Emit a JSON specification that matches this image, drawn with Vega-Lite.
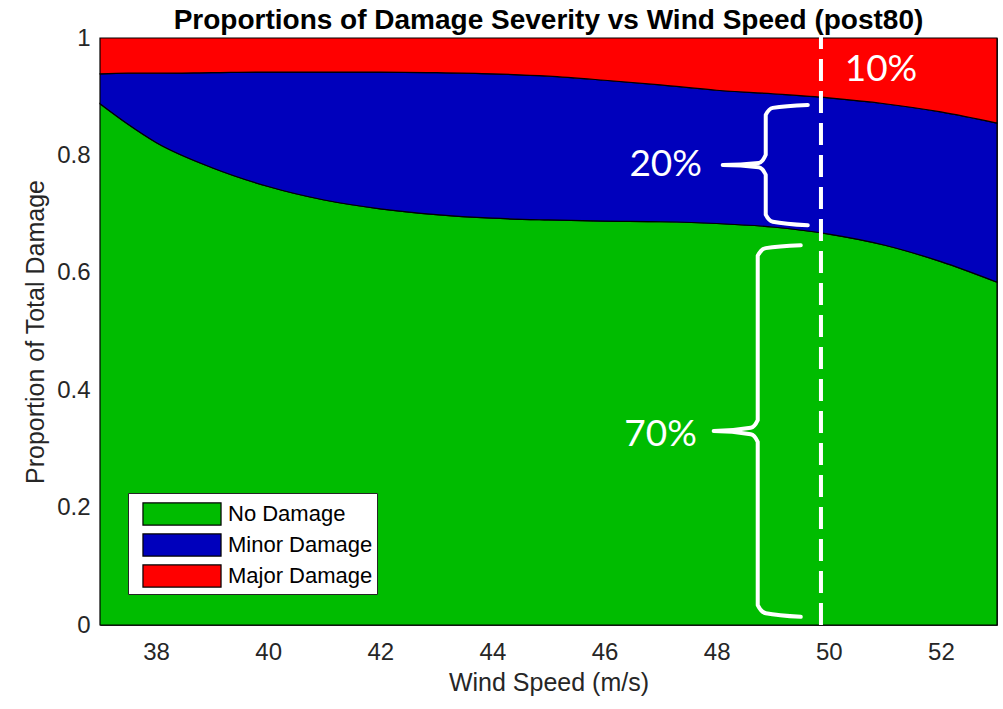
{
  "$schema": "https://vega.github.io/schema/vega-lite/v6.json",
  "width": 897,
  "height": 587,
  "autosize": {"type": "none"},
  "padding": {"left": 100, "top": 38, "right": 6, "bottom": 84},
  "background": "white",
  "config": {
    "view": {"stroke": "#262626", "strokeWidth": 1},
    "font": "Liberation Sans"
  },
  "title": {
    "text": "Proportions of Damage Severity vs Wind Speed (post80)",
    "fontSize": 28,
    "fontWeight": "bold",
    "font": "Liberation Sans",
    "color": "black",
    "anchor": "middle",
    "frame": "group",
    "offset": -9
  },
  "datasets": {
    "damage": [
      {"speed": 37, "category": "No Damage", "rank": 1, "p": 0.888},
      {"speed": 37.5, "category": "No Damage", "rank": 1, "p": 0.853},
      {"speed": 38, "category": "No Damage", "rank": 1, "p": 0.822},
      {"speed": 39, "category": "No Damage", "rank": 1, "p": 0.779},
      {"speed": 40, "category": "No Damage", "rank": 1, "p": 0.747},
      {"speed": 41, "category": "No Damage", "rank": 1, "p": 0.724},
      {"speed": 42, "category": "No Damage", "rank": 1, "p": 0.709},
      {"speed": 43, "category": "No Damage", "rank": 1, "p": 0.699},
      {"speed": 44, "category": "No Damage", "rank": 1, "p": 0.693},
      {"speed": 45, "category": "No Damage", "rank": 1, "p": 0.690},
      {"speed": 46, "category": "No Damage", "rank": 1, "p": 0.688},
      {"speed": 47, "category": "No Damage", "rank": 1, "p": 0.687},
      {"speed": 48, "category": "No Damage", "rank": 1, "p": 0.684},
      {"speed": 49, "category": "No Damage", "rank": 1, "p": 0.678},
      {"speed": 50, "category": "No Damage", "rank": 1, "p": 0.666},
      {"speed": 51, "category": "No Damage", "rank": 1, "p": 0.647},
      {"speed": 52, "category": "No Damage", "rank": 1, "p": 0.619},
      {"speed": 53, "category": "No Damage", "rank": 1, "p": 0.584},
      {"speed": 37, "category": "Minor Damage", "rank": 2, "p": 0.051},
      {"speed": 37.5, "category": "Minor Damage", "rank": 2, "p": 0.087},
      {"speed": 38, "category": "Minor Damage", "rank": 2, "p": 0.118},
      {"speed": 39, "category": "Minor Damage", "rank": 2, "p": 0.162},
      {"speed": 40, "category": "Minor Damage", "rank": 2, "p": 0.195},
      {"speed": 41, "category": "Minor Damage", "rank": 2, "p": 0.218},
      {"speed": 42, "category": "Minor Damage", "rank": 2, "p": 0.233},
      {"speed": 43, "category": "Minor Damage", "rank": 2, "p": 0.242},
      {"speed": 44, "category": "Minor Damage", "rank": 2, "p": 0.246},
      {"speed": 45, "category": "Minor Damage", "rank": 2, "p": 0.245},
      {"speed": 46, "category": "Minor Damage", "rank": 2, "p": 0.240},
      {"speed": 47, "category": "Minor Damage", "rank": 2, "p": 0.233},
      {"speed": 48, "category": "Minor Damage", "rank": 2, "p": 0.227},
      {"speed": 49, "category": "Minor Damage", "rank": 2, "p": 0.227},
      {"speed": 50, "category": "Minor Damage", "rank": 2, "p": 0.232},
      {"speed": 51, "category": "Minor Damage", "rank": 2, "p": 0.241},
      {"speed": 52, "category": "Minor Damage", "rank": 2, "p": 0.255},
      {"speed": 53, "category": "Minor Damage", "rank": 2, "p": 0.271},
      {"speed": 37, "category": "Major Damage", "rank": 3, "p": 0.061},
      {"speed": 37.5, "category": "Major Damage", "rank": 3, "p": 0.060},
      {"speed": 38, "category": "Major Damage", "rank": 3, "p": 0.060},
      {"speed": 39, "category": "Major Damage", "rank": 3, "p": 0.059},
      {"speed": 40, "category": "Major Damage", "rank": 3, "p": 0.058},
      {"speed": 41, "category": "Major Damage", "rank": 3, "p": 0.058},
      {"speed": 42, "category": "Major Damage", "rank": 3, "p": 0.058},
      {"speed": 43, "category": "Major Damage", "rank": 3, "p": 0.059},
      {"speed": 44, "category": "Major Damage", "rank": 3, "p": 0.061},
      {"speed": 45, "category": "Major Damage", "rank": 3, "p": 0.065},
      {"speed": 46, "category": "Major Damage", "rank": 3, "p": 0.072},
      {"speed": 47, "category": "Major Damage", "rank": 3, "p": 0.080},
      {"speed": 48, "category": "Major Damage", "rank": 3, "p": 0.089},
      {"speed": 49, "category": "Major Damage", "rank": 3, "p": 0.095},
      {"speed": 50, "category": "Major Damage", "rank": 3, "p": 0.102},
      {"speed": 51, "category": "Major Damage", "rank": 3, "p": 0.112},
      {"speed": 52, "category": "Major Damage", "rank": 3, "p": 0.126},
      {"speed": 53, "category": "Major Damage", "rank": 3, "p": 0.145}
    ],
    "vline": [
      {"speed": 49.86, "p": 0, "p2": 1.014}
    ],
    "braces": [
      {"brace": "b20", "i": 1, "speed": 49.625, "p": 0.886},
      {"brace": "b20", "i": 2, "speed": 49.0, "p": 0.881},
      {"brace": "b20", "i": 3, "speed": 48.875, "p": 0.869},
      {"brace": "b20", "i": 4, "speed": 48.875, "p": 0.801},
      {"brace": "b20", "i": 5, "speed": 48.75, "p": 0.787},
      {"brace": "b20", "i": 6, "speed": 48.107, "p": 0.7836},
      {"brace": "b20", "i": 7, "speed": 48.75, "p": 0.780},
      {"brace": "b20", "i": 8, "speed": 48.875, "p": 0.767},
      {"brace": "b20", "i": 9, "speed": 48.875, "p": 0.699},
      {"brace": "b20", "i": 10, "speed": 49.0, "p": 0.687},
      {"brace": "b20", "i": 11, "speed": 49.625, "p": 0.681},
      {"brace": "b70", "i": 1, "speed": 49.5, "p": 0.647},
      {"brace": "b70", "i": 2, "speed": 48.875, "p": 0.642},
      {"brace": "b70", "i": 3, "speed": 48.732, "p": 0.629},
      {"brace": "b70", "i": 4, "speed": 48.732, "p": 0.349},
      {"brace": "b70", "i": 5, "speed": 48.607, "p": 0.336},
      {"brace": "b70", "i": 6, "speed": 47.946, "p": 0.3305},
      {"brace": "b70", "i": 7, "speed": 48.607, "p": 0.325},
      {"brace": "b70", "i": 8, "speed": 48.732, "p": 0.312},
      {"brace": "b70", "i": 9, "speed": 48.732, "p": 0.034},
      {"brace": "b70", "i": 10, "speed": 48.875, "p": 0.020},
      {"brace": "b70", "i": 11, "speed": 49.5, "p": 0.014}
    ],
    "labels": [
      {"label": "10%", "speed": 50.93, "p": 0.9455},
      {"label": "20%", "speed": 47.09, "p": 0.7836},
      {"label": "70%", "speed": 47.0, "p": 0.3237}
    ]
  },
  "layer": [
    {
      "data": {"name": "damage"},
      "mark": {"type": "area", "interpolate": "monotone", "stroke": "black", "strokeWidth": 1.2, "opacity": 1},
      "encoding": {
        "x": {
          "field": "speed",
          "type": "quantitative",
          "scale": {"domain": [37, 53], "nice": false, "zero": false},
          "axis": {
            "title": "Wind Speed (m/s)",
            "values": [38, 40, 42, 44, 46, 48, 50, 52],
            "format": "d",
            "ticks": false,
            "grid": false,
            "domain": false,
            "labelFont": "Liberation Sans",
            "labelFontSize": 24,
            "labelColor": "#262626",
            "labelPadding": 15,
            "titleFont": "Liberation Sans",
            "titleFontSize": 25,
            "titleFontWeight": "normal",
            "titleColor": "#262626",
            "titlePadding": 6
          }
        },
        "y": {
          "field": "p",
          "type": "quantitative",
          "stack": "zero",
          "scale": {"domain": [0, 1], "nice": false},
          "axis": {
            "title": "Proportion of Total Damage",
            "values": [0, 0.2, 0.4, 0.6, 0.8, 1],
            "format": "~g",
            "ticks": false,
            "grid": false,
            "domain": false,
            "labelFont": "Liberation Sans",
            "labelFontSize": 24,
            "labelColor": "#262626",
            "labelPadding": 10,
            "titleFont": "Liberation Sans",
            "titleFontSize": 25,
            "titleFontWeight": "normal",
            "titleColor": "#262626",
            "titlePadding": 8
          }
        },
        "color": {
          "field": "category",
          "type": "nominal",
          "sort": ["No Damage", "Minor Damage", "Major Damage"],
          "scale": {
            "domain": ["No Damage", "Minor Damage", "Major Damage"],
            "range": ["#00BC00", "#0000BC", "#FF0000"]
          },
          "legend": {
            "title": null,
            "orient": "none",
            "legendX": 28,
            "legendY": 455,
            "fillColor": "white",
            "strokeColor": "#262626",
            "padding": 4,
            "symbolType": "M-2.44,-0.69H2.44V0.69H-2.44Z",
            "symbolSize": 1024,
            "symbolStrokeColor": "black",
            "symbolStrokeWidth": 1.2,
            "symbolOpacity": 1,
            "symbolOffset": 33,
            "labelOffset": 29,
            "labelFont": "Liberation Sans",
            "labelFontSize": 22,
            "labelColor": "black",
            "labelLimit": 400,
            "rowPadding": 0
          }
        },
        "order": {"field": "rank", "type": "quantitative"}
      }
    },
    {
      "data": {"name": "vline"},
      "mark": {"type": "rule", "color": "white", "strokeWidth": 4, "strokeDash": [22, 10]},
      "encoding": {
        "x": {"field": "speed", "type": "quantitative"},
        "y": {"field": "p", "type": "quantitative"},
        "y2": {"field": "p2"}
      }
    },
    {
      "data": {"name": "braces"},
      "mark": {"type": "line", "color": "white", "strokeWidth": 4, "interpolate": "monotone", "strokeCap": "round", "strokeJoin": "round"},
      "encoding": {
        "x": {"field": "speed", "type": "quantitative"},
        "y": {"field": "p", "type": "quantitative"},
        "detail": {"field": "brace", "type": "nominal"},
        "order": {"field": "i", "type": "quantitative"}
      }
    },
    {
      "data": {"name": "labels"},
      "mark": {"type": "text", "color": "white", "font": "Lato", "fontSize": 37, "align": "center", "baseline": "middle"},
      "encoding": {
        "x": {"field": "speed", "type": "quantitative"},
        "y": {"field": "p", "type": "quantitative"},
        "text": {"field": "label", "type": "nominal"}
      }
    }
  ]
}
